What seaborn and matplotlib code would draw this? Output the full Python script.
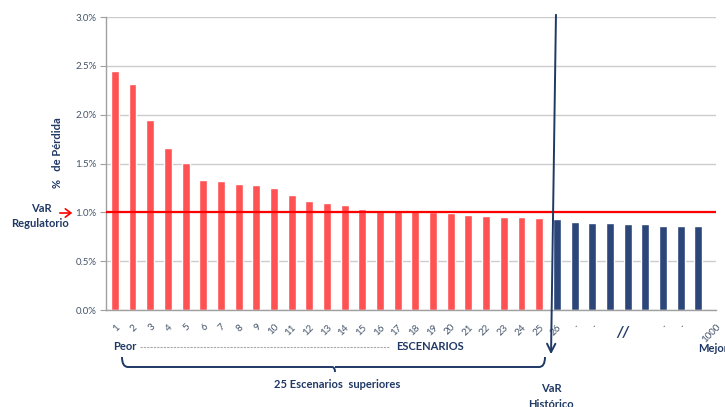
import matplotlib
matplotlib.use("Agg")
import matplotlib.pyplot as plt
from matplotlib.patches import FancyArrowPatch, PathPatch
from matplotlib.path import Path
import seaborn as sns
import pandas as pd

# Worst 25 historical scenarios (% loss), then the rest of the sorted tail
worst_losses = [2.45, 2.31, 1.95, 1.66, 1.51, 1.33, 1.32, 1.29, 1.28, 1.25,
                1.18, 1.12, 1.10, 1.08, 1.03, 1.02, 1.01, 1.01, 1.00, 0.99,
                0.97, 0.96, 0.95, 0.95, 0.94]
other_losses = [0.93, 0.90, 0.89, 0.89, 0.88, 0.88, 0.86, 0.86, 0.86]
tick_labels = [str(i) for i in range(1, 27)] + ["·", "·", "", "", "", "·", "·", "", "1000"]
groups = ["superior"] * len(worst_losses) + ["resto"] * len(other_losses)
var_regulatorio = 1.0
y_ticks = [0.0, 0.5, 1.0, 1.5, 2.0, 2.5, 3.0]

NAVY = "#1F3864"
RED_BAR = "#FF5353"
BLUE_BAR = "#2C4679"
TICK_COL = "#44546A"

sns.set_theme(style="white")
plt.rcParams["font.family"] = ["Lato", "DejaVu Sans"]

df = pd.DataFrame({
    "pos": list(range(len(groups))),
    "loss": worst_losses + other_losses,
    "grupo": groups,
})

fig = plt.figure(figsize=(7.25, 4.07), dpi=100)
ax = fig.add_axes([0.1462, 0.2383, 0.8414, 0.7199])

sns.barplot(data=df, x="pos", y="loss", hue="grupo",
            palette={"superior": RED_BAR, "resto": BLUE_BAR},
            dodge=False, width=0.45, legend=False, ax=ax, saturation=1)

ax.set_xlim(-0.5, len(groups) - 0.5)
ax.set_ylim(0, 3.0)
ax.set_yticks(y_ticks)
ax.set_yticklabels([f"{v:.1f}%" for v in y_ticks], color=TICK_COL, fontsize=7)
ax.yaxis.grid(True, color="#CCCCCC", linewidth=1)
ax.set_axisbelow(True)
ax.tick_params(axis="y", which="major", length=4, width=0.8, color="#A0A0A0",
               left=True, pad=3)
ax.tick_params(axis="x", length=0, pad=9)
ax.set_xticks(range(len(tick_labels)))
ax.set_xticklabels(tick_labels, rotation=45, ha="right", rotation_mode="anchor",
                   color=TICK_COL, fontsize=7)
ax.set_xlabel("")
ax.set_ylabel("%   de Pérdida", fontsize=8, fontweight="bold", color=NAVY)
ax.yaxis.set_label_coords(-43 / 610, 0.536)
for side in ("top", "right"):
    ax.spines[side].set_visible(False)
for side in ("left", "bottom"):
    ax.spines[side].set_color("#A0A0A0")
    ax.spines[side].set_linewidth(1)

# Regulatory VaR threshold
ax.axhline(var_regulatorio, color="#FF0000", linewidth=1.6, zorder=3)

# Section break marker
ax.text(28.7, -0.16, "//", ha="center", va="top", fontsize=11,
        fontweight="bold", style="italic", color=NAVY)


def px(x, y):
    """Figure fraction from pixel position measured from the top-left."""
    return (x / 725, 1 - y / 407)


fig.text(*px(41, 209), "VaR", ha="center", va="center", fontsize=8,
         fontweight="bold", color=NAVY)
fig.text(*px(40, 223), "Regulatorio", ha="center", va="center", fontsize=8,
         fontweight="bold", color=NAVY)
fig.patches.append(FancyArrowPatch(px(57, 213), px(75, 213),
                                   transform=fig.transFigure,
                                   arrowstyle="->,head_length=4,head_width=3",
                                   color="#FF0000", linewidth=1.2))

# Historical VaR line
fig.patches.append(FancyArrowPatch(px(556, 12), px(551, 357),
                                   transform=fig.transFigure,
                                   arrowstyle="->,head_length=6,head_width=3",
                                   color=NAVY, linewidth=1.4))
fig.text(*px(551, 389), "VaR", ha="center", va="center", fontsize=8,
         fontweight="bold", color=NAVY)
fig.text(*px(551, 404), "Histórico", ha="center", va="center", fontsize=8,
         fontweight="bold", color=NAVY)

# Scenario ordering row
fig.text(*px(113, 347), "Peor", ha="left", va="center", fontsize=8,
         fontweight="bold", color=NAVY)
fig.lines.append(plt.Line2D([140 / 725, 390 / 725], [1 - 347 / 407] * 2,
                            transform=fig.transFigure, color="#A8A8A8",
                            linewidth=0.8, linestyle=(0, (2, 1))))
fig.text(*px(396, 347), "ESCENARIOS", ha="left", va="center", fontsize=8,
         fontweight="bold", color=NAVY)
fig.text(*px(698, 348), "Mejor", ha="left", va="center", fontsize=8,
         fontweight="bold", color=NAVY)

# Bracket around the top 25 scenarios
verts = [px(122, 357), px(122, 367), px(128, 367),
         px(332, 367), px(335, 367), px(335, 372),
         px(335, 367), px(338, 367),
         px(539, 367), px(545, 367), px(545, 357)]
codes = [Path.MOVETO, Path.CURVE3, Path.CURVE3,
         Path.LINETO, Path.CURVE3, Path.CURVE3,
         Path.MOVETO, Path.LINETO,
         Path.LINETO, Path.CURVE3, Path.CURVE3]
fig.patches.append(PathPatch(Path(verts, codes), transform=fig.transFigure,
                             fill=False, edgecolor=NAVY, linewidth=1.4))
fig.text(*px(337, 384), "25 Escenarios  superiores", ha="center", va="center",
         fontsize=8, fontweight="bold", color=NAVY)

fig.savefig("out.png", dpi=100)
